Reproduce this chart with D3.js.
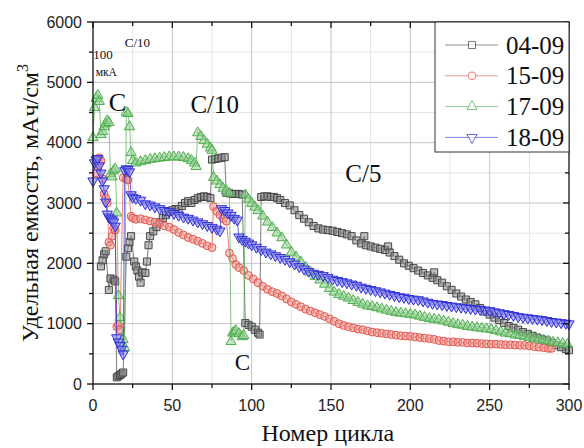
<!DOCTYPE html>
<head>
<meta charset='utf-8'>
<style>
  body { margin: 0; background: #fff; }
</style>
</head>
<body>
<div id='vis'></div>
<script src='https://d3js.org/d3.v7.min.js'></script>
<script>
  // series: [cycle, capacity mAh/cm3]
  const s0409 = [[5,1950],[6,2050],[7,2150],[8,2200],[10,1560],[11,1750],[13,1730],[14,1700],[15,110],[16,130],[17,150],[18,170],[19,190],
    [21,2110],[22,2250],[23,2350],[24,2450],[26,2030],[27,1950],[28,1880],[29,1780],[30,1680],[31,1850],[33,1840],[34,2030],[35,2300],[36,2450],
    [38,2530],[40,2600],[42,2680],[44,2750],[46,2800],[48,2850],[50,2880],[52,2900],[54,2900],[56,2950],[58,3000],[60,3030],[62,3000],[64,3050],
    [66,3080],[68,3100],[70,3110],[72,3100],[74,3080],[75,3720],[77,3730],[79,3740],[81,3750],[83,3760],[84,3170],[86,3160],[88,3150],[90,3150],
    [92,3150],[94,3140],[96,1010],[98,980],[100,950],[102,900],[104,850],[105,820],[106,3100],[108,3110],[110,3110],[112,3100],[114,3100],
    [116,3080],[118,3050],[121,3000],[124,2960],[127,2880],[130,2800],[133,2740],[136,2680],[139,2620],[142,2580],[145,2560],[148,2550],
    [151,2540],[154,2520],[157,2500],[160,2480],[163,2450],[166,2380],[169,2330],[171,2450],[172,2300],[175,2280],[178,2260],[181,2240],
    [184,2220],[186,2280],[187,2180],[190,2120],[193,2060],[196,2000],[199,1960],[202,1920],[205,1880],[208,1840],[211,1800],[214,1760],
    [215,1850],[217,1720],[220,1680],[223,1620],[226,1560],[229,1500],[232,1450],[235,1400],[238,1360],[241,1320],[244,1260],[247,1200],
    [250,1150],[253,1100],[256,1060],[259,1010],[262,960],[265,930],[268,900],[271,860],[274,830],[277,800],[280,770],[283,740],[286,720],
    [289,680],[292,640],[295,610],[298,580],[300,560]]

  const s1509 = [[2,3500],[3,3600],[4,3750],[5,3700],[6,3400],[7,3150],[8,3080],[9,3000],[10,2350],[11,2300],[12,2450],[13,2580],[14,2550],
    [15,950],[16,980],[17,900],[19,3420],[21,3400],[22,3380],[24,2780],[25,2750],[27,2730],[30,2740],[33,2720],[36,2700],[39,2680],[42,2660],
    [45,2620],[48,2600],[51,2560],[54,2510],[57,2470],[60,2430],[63,2400],[66,2370],[69,2330],[72,2290],[75,2260],[76,2940],[78,2860],
    [80,2800],[82,2740],[84,2700],[86,2170],[88,2080],[90,1980],[92,1930],[95,1880],[98,1800],[101,1740],[104,1680],[107,1620],[110,1570],
    [113,1530],[116,1500],[119,1460],[122,1410],[125,1360],[128,1320],[131,1280],[134,1240],[137,1210],[140,1180],[143,1150],[146,1120],
    [149,1080],[152,1040],[155,1000],[158,970],[161,950],[164,930],[167,910],[170,900],[173,880],[176,860],[179,850],[182,840],[185,830],
    [188,820],[191,810],[194,800],[197,795],[200,790],[203,780],[206,770],[209,760],[212,750],[215,740],[218,720],[221,710],[224,700],
    [227,700],[230,690],[233,690],[236,680],[239,680],[242,675],[245,670],[248,665],[251,660],[254,660],[257,655],[260,650],[263,650],
    [266,645],[269,640],[272,640],[275,630],[278,620],[281,610],[284,600],[287,590],[289,590]]

  const s1709 = [[0,4100],[1,4600],[2,4750],[3,4800],[4,4700],[5,4150],[6,4200],[7,4280],[8,4330],[9,4380],[10,4350],[11,3500],[12,3450],
    [13,3550],[14,3580],[15,2850],[16,1480],[17,1120],[19,750],[20,620],[21,4520],[22,4500],[23,4280],[24,3850],[25,3720],[27,3680],
    [30,3700],[33,3720],[36,3740],[39,3750],[42,3760],[45,3770],[48,3780],[51,3780],[54,3780],[57,3770],[60,3750],[62,3720],[64,3680],
    [65,3620],[66,4180],[68,4120],[70,4050],[72,3990],[74,3930],[75,3890],[76,3440],[78,3380],[80,3320],[82,3260],[84,3220],[86,3180],
    [87,720],[88,860],[89,880],[90,900],[92,850],[94,800],[95,820],[96,3150],[98,3080],[100,3010],[102,2950],[104,2890],[107,2800],
    [110,2700],[113,2610],[116,2520],[119,2440],[122,2320],[125,2200],[128,2120],[131,2040],[134,1950],[137,1870],[140,1800],[143,1740],
    [146,1670],[149,1600],[152,1540],[155,1500],[158,1470],[161,1440],[164,1400],[167,1370],[170,1340],[173,1310],[176,1300],[179,1280],
    [182,1260],[185,1240],[188,1220],[191,1200],[194,1190],[197,1180],[200,1170],[203,1160],[206,1140],[209,1120],[212,1100],[215,1090],
    [218,1080],[221,1060],[224,1040],[227,1020],[230,1000],[233,990],[236,970],[239,960],[242,950],[245,940],[248,930],[251,920],[254,900],
    [257,880],[260,860],[263,850],[266,830],[269,820],[272,800],[275,790],[278,770],[281,760],[284,740],[287,730],[290,710],[293,700],
    [296,690],[299,670]]

  const s1809 = [[0,3350],[1,3650],[2,3700],[3,3720],[4,3600],[5,3480],[6,3350],[7,3220],[8,3000],[9,2800],[10,2750],[11,2720],[12,2700],
    [13,2670],[14,2600],[15,750],[16,680],[17,620],[18,560],[19,480],[20,3520],[21,3550],[22,3540],[23,3500],[24,3120],[25,3080],[27,3060],
    [30,3030],[33,2970],[36,2950],[39,2920],[42,2890],[45,2860],[48,2840],[51,2810],[54,2780],[57,2750],[60,2730],[63,2700],[66,2670],
    [69,2640],[72,2610],[75,2580],[78,2550],[80,2520],[81,2890],[83,2860],[85,2820],[87,2780],[89,2730],[91,2700],[92,2420],[94,2380],
    [96,2350],[98,2320],[100,2290],[103,2250],[106,2210],[109,2170],[112,2140],[115,2110],[118,2080],[121,2050],[124,2010],[127,1970],
    [130,1930],[133,1890],[136,1850],[139,1820],[142,1800],[145,1780],[148,1750],[151,1720],[154,1700],[157,1680],[160,1660],[163,1640],
    [166,1620],[169,1590],[172,1570],[175,1550],[178,1530],[181,1510],[184,1490],[187,1470],[190,1450],[193,1430],[196,1420],[199,1400],
    [202,1390],[205,1380],[208,1360],[211,1340],[214,1320],[217,1310],[220,1300],[223,1285],[226,1275],[229,1265],[232,1255],[235,1245],
    [238,1235],[241,1225],[244,1220],[247,1210],[250,1200],[253,1180],[256,1165],[259,1150],[262,1135],[265,1120],[268,1100],[271,1090],
    [274,1080],[277,1070],[280,1060],[283,1050],[286,1035],[289,1020],[292,1010],[295,1000],[298,990],[300,980]]

  const seriesNames = ['04-09', '15-09', '17-09', '18-09']
  const seriesData = [s0409, s1509, s1709, s1809]

  const xTicks = [0, 50, 100, 150, 200, 250, 300]
  const yTicks = [0, 1000, 2000, 3000, 4000, 5000, 6000]

  // text marks on the plot: [text, cycle, capacity, font size]
  const notes = [['100', 0.1, 5390, 13], ['C/10', 20, 5580, 13], ['мкА', 1.7, 5100, 11.5],
    ['C', 10, 4520, 26], ['C/10', 61.4, 4500, 25], ['C/5', 159, 3340, 25], ['C', 89.4, 230, 23]]

  const colours = ['#484848', '#e5544c', '#4fae4f', '#2f2fd8']
  const fills = ['#8a8a8a', '#f09a94', '#93d093', '#7f7fee']
  const symbols = [d3.symbolSquare, d3.symbolCircle, d3.symbolTriangle, d3.symbolTriangle]
  const symSize = [50, 48, 46, 46]

  const SERIF = "'Liberation Serif', 'DejaVu Serif', 'Times New Roman', serif"
  const SANS = "'Liberation Sans', Arial, 'DejaVu Sans', sans-serif"

  const W = 584, H = 448
  const margin = {top: 22, right: 15, bottom: 64, left: 93}

  const x = d3.scaleLinear().domain([0, 300]).range([margin.left, W - margin.right])
  const y = d3.scaleLinear().domain([0, 6000]).range([H - margin.bottom, margin.top])

  const svg = d3.select('#vis').append('svg')
    .attr('width', W)
    .attr('height', H)

  // grid: minor then major
  const grid = svg.append('g')
  grid.selectAll('.gx-minor').data(d3.range(25, 300, 50)).enter().append('line')
    .attr('x1', x).attr('x2', x).attr('y1', y(0)).attr('y2', y(6000))
    .attr('stroke', '#e4e4e4').attr('stroke-width', 1)
  grid.selectAll('.gy-minor').data(d3.range(500, 6000, 1000)).enter().append('line')
    .attr('y1', y).attr('y2', y).attr('x1', x(0)).attr('x2', x(300))
    .attr('stroke', '#e4e4e4').attr('stroke-width', 1)
  grid.selectAll('.gx').data(xTicks.slice(1, -1)).enter().append('line')
    .attr('x1', x).attr('x2', x).attr('y1', y(0)).attr('y2', y(6000))
    .attr('stroke', '#c6c6c6').attr('stroke-width', 1)
  grid.selectAll('.gy').data(yTicks.slice(1, -1)).enter().append('line')
    .attr('y1', y).attr('y2', y).attr('x1', x(0)).attr('x2', x(300))
    .attr('stroke', '#c6c6c6').attr('stroke-width', 1)

  // series
  const line = d3.line().x(d => x(d[0])).y(d => y(d[1]))
  seriesData.forEach((data, i) => {
    const g = svg.append('g')
    g.append('path')
      .attr('d', line(data))
      .attr('fill', 'none')
      .attr('stroke', colours[i])
      .attr('stroke-width', 0.9)
      .attr('opacity', 0.8)
    const sym = d3.symbol().type(symbols[i]).size(symSize[i])
    g.selectAll('path.m').data(data).enter().append('path')
      .attr('class', 'm')
      .attr('d', sym)
      .attr('transform', d => `translate(${x(d[0])},${y(d[1]) + (i === 3 ? -1 : i === 2 ? 1 : 0)})` + (i === 3 ? ' rotate(180)' : ''))
      .attr('fill', fills[i])
      .attr('fill-opacity', 0.55)
      .attr('stroke', colours[i])
      .attr('stroke-width', 1)
  })

  // frame and ticks
  const axisG = svg.append('g').attr('stroke', '#111').attr('stroke-width', 1.3)
  axisG.append('rect')
    .attr('x', x(0)).attr('y', y(6000))
    .attr('width', x(300) - x(0)).attr('height', y(0) - y(6000))
    .attr('fill', 'none')
  const xAll = d3.range(0, 301, 25)
  const yAll = d3.range(0, 6001, 500)
  axisG.selectAll('.xt').data(xAll).enter().append('line')
    .attr('x1', x).attr('x2', x)
    .attr('y1', y(0)).attr('y2', d => y(0) + (d % 50 === 0 ? 6 : 4))
  axisG.selectAll('.xtt').data(xAll).enter().append('line')
    .attr('x1', x).attr('x2', x)
    .attr('y1', y(6000)).attr('y2', d => y(6000) + (d % 50 === 0 ? 6 : 4))
  axisG.selectAll('.yt').data(yAll).enter().append('line')
    .attr('y1', y).attr('y2', y)
    .attr('x1', x(0)).attr('x2', d => x(0) - (d % 1000 === 0 ? 6 : 4))
  axisG.selectAll('.ytr').data(yAll).enter().append('line')
    .attr('y1', y).attr('y2', y)
    .attr('x1', x(300)).attr('x2', d => x(300) - (d % 1000 === 0 ? 6 : 4))

  svg.selectAll('.xl').data(xTicks).enter().append('text')
    .attr('font-family', SANS).attr('font-size', 16).attr('fill', '#222')
    .attr('x', x).attr('y', y(0) + 27)
    .attr('text-anchor', 'middle')
    .text(d => d)
  svg.selectAll('.yl').data(yTicks).enter().append('text')
    .attr('font-family', SANS).attr('font-size', 16).attr('fill', '#222')
    .attr('x', x(0) - 11).attr('y', d => y(d) + 5.5)
    .attr('text-anchor', 'end')
    .text(d => d)

  // axis titles
  svg.append('text')
    .attr('font-family', SERIF).attr('fill', '#111')
    .attr('x', x(148)).attr('y', 441)
    .attr('text-anchor', 'middle')
    .attr('font-size', 24)
    .text('Номер цикла')
  const yTitle = svg.append('text')
    .attr('font-family', SERIF).attr('fill', '#111')
    .attr('transform', `translate(38, ${(y(0) + y(6000)) / 2}) rotate(-90)`)
    .attr('text-anchor', 'middle')
    .attr('font-size', 24)
  yTitle.append('tspan').text('Удельная емкость, мАч/см')
  yTitle.append('tspan').attr('font-size', 16).attr('dy', -10).text('3')

  // notes
  svg.selectAll('.note').data(notes).enter().append('text')
    .attr('font-family', SERIF).attr('fill', '#111')
    .attr('x', d => x(d[1])).attr('y', d => y(d[2]))
    .attr('font-size', d => d[3])
    .text(d => d[0])

  // legend
  const leg = svg.append('g').attr('transform', `translate(${x(300) - 134}, ${y(6000)})`)
  leg.append('rect')
    .attr('width', 134).attr('height', 130)
    .attr('fill', '#fff').attr('stroke', '#333').attr('stroke-width', 1)
  seriesNames.forEach((name, i) => {
    const ly = 23 + i * 30.8
    leg.append('line')
      .attr('x1', 10).attr('x2', 63).attr('y1', ly).attr('y2', ly)
      .attr('stroke', colours[i]).attr('stroke-width', 1).attr('opacity', 0.6)
    leg.append('path')
      .attr('d', d3.symbol().type(symbols[i]).size(symSize[i])())
      .attr('transform', `translate(37, ${ly}) ` + (i === 3 ? 'rotate(180)' : ''))
      .attr('fill', '#fff')
      .attr('stroke', colours[i]).attr('stroke-width', 1).attr('opacity', 0.75)
    leg.append('text')
      .attr('font-family', SERIF).attr('fill', '#111')
      .attr('x', 71).attr('y', ly + 8.5)
      .attr('font-size', 25)
      .text(name)
  })
</script>
</body>
